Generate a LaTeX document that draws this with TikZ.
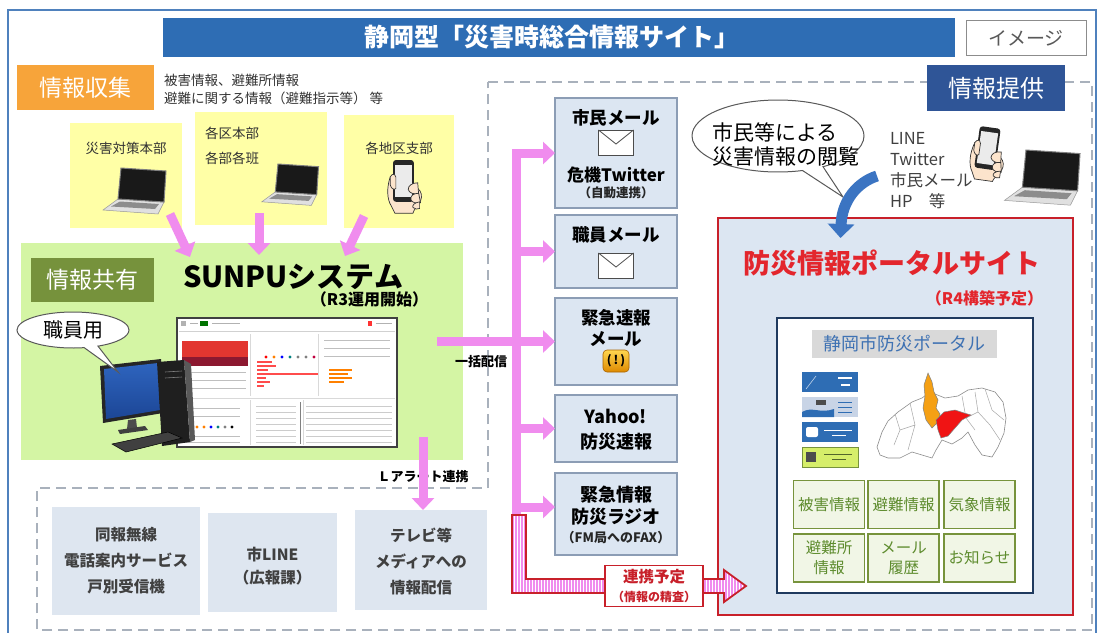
\documentclass[tikz,border=0pt]{standalone}
\usepackage{fontspec}
\setmainfont{Noto Sans CJK JP}
\usetikzlibrary{arrows.meta,shapes.callouts,shapes.geometric,patterns.meta,calc}

\newcommand{\fsz}[2]{\fontsize{#1}{#2}\selectfont}

\definecolor{framec}{HTML}{4F81BD}
\definecolor{titlec}{HTML}{2E6DB4}
\definecolor{navyc}{HTML}{2F5597}
\definecolor{orangec}{HTML}{F7A43A}
\definecolor{yellowc}{HTML}{FFFFA6}
\definecolor{greenc}{HTML}{D4F5A4}
\definecolor{olivec}{HTML}{76923C}
\definecolor{pinkc}{HTML}{F08CEE}
\definecolor{boxc}{HTML}{DCE6F2}
\definecolor{lowc}{HTML}{DEE6F0}
\definecolor{boxedge}{HTML}{8C9DB5}
\definecolor{redc}{HTML}{C8202A}
\definecolor{portalred}{HTML}{E3262D}
\definecolor{dashc}{HTML}{A9B1BC}
\definecolor{btnedge}{HTML}{77933C}
\definecolor{btnfill}{HTML}{F1F6E6}
\definecolor{btntext}{HTML}{5E8C2E}
\definecolor{textc}{HTML}{333333}
\definecolor{skinc}{HTML}{FCE4CC}
\definecolor{arrowblue}{HTML}{3B74C2}
\definecolor{labelblue}{HTML}{3F72B3}
\definecolor{labelgray}{HTML}{D9D9D9}
\definecolor{panelnavy}{HTML}{1F3A5F}

\tikzset{
  every node/.style={inner sep=0pt, outer sep=0pt},
  pk/.style={draw=pinkc, line width=9pt, line join=miter, -{Triangle[length=12pt,width=22pt]}},
  midbox/.style={rectangle, fill=boxc, draw=boxedge, line width=1.3pt, minimum width=122pt},
  lowbox/.style={rectangle, fill=lowc},
  midtext/.style={font=\bfseries\fsz{17.5}{21}, text=black},
  smalltext/.style={font=\bfseries\fsz{12.5}{14}, text=black!85},
  lowtext/.style={font=\bfseries\fsz{15.5}{26}, text=black!75, align=center},
  yelbox/.style={rectangle, fill=yellowc},
  yeltext/.style={font=\fsz{13.5}{25}, text=textc},
  btn/.style={rectangle, draw=btnedge, fill=btnfill, line width=1.6pt, minimum width=71pt, minimum height=48pt, text=btntext, align=center, font=\fsz{15.5}{20}},
  bubble/.style={ellipse callout, draw=black!65, fill=white, line width=1pt},
  dashreg/.style={draw=dashc, line width=1.5pt, dash pattern=on 10pt off 6pt},
  envelope/.pic={
    \path[fill=white, draw=black!70, line width=0.8pt] (0,0) rectangle (35,25);
    \draw[black!70, line width=0.8pt] (0,0) -- (17.5,14) -- (35,0);
  },
  laptop/.pic={
    \path[fill=black!12, draw=black!40, line width=0.5pt] (-3,31) -- (43,34) -- (37,46) -- (-18,42) -- cycle;
    \path[fill=black!45] (-1,33.5) -- (38,36) -- (34,41) -- (-10,38.5) -- cycle;
    \path[fill=black!90, draw=black!50, line width=1pt] (0,0) -- (45,3) -- (43,34) -- (-3,31) -- cycle;
  },
  phonehand/.pic={
    \path[fill=skinc, draw=black!80, line width=0.7pt]
      (-3,18) .. controls (-7,30) and (-6,42) .. (-2,48) -- (2,56) -- (21,56)
      .. controls (22,52) and (26,48) .. (29,43) .. controls (31,38) and (30,33) .. (26,30) -- cycle;
    \path[fill=black!85, rounded corners=3pt] (0,0) rectangle (22,44);
    \path[fill=black!8] (2,5) rectangle (20,39);
    \path[fill=skinc, draw=black!80, line width=0.7pt] (26,24) .. controls (20,24) and (16,27) .. (16,31) .. controls (17,35) and (22,36) .. (27,36) -- cycle;
    \path[fill=skinc, draw=black!80, line width=0.7pt] (27,35) .. controls (21,35) and (18,38) .. (19,42) .. controls (20,45) and (25,46) .. (29,45) -- cycle;
    \path[fill=skinc, draw=black!80, line width=0.7pt] (28,44) .. controls (22,45) and (20,48) .. (21,50) .. controls (23,52) and (26,52) .. (28,51) -- cycle;
    \path[fill=skinc, draw=black!80, line width=0.7pt] (-3,18) .. controls (-1,14) and (2,14) .. (3,18) -- (3,30) .. controls (1,32) and (-2,30) .. (-3,26) -- cycle;
  },
}

\begin{document}
\begin{tikzpicture}[x=1pt,y=-1pt]
\useasboundingbox (0,0) rectangle (1099,632);
\clip (0,0) rectangle (1099,632);
\fill[white] (0,0) rectangle (1099,632);

% outer frame
\draw[framec, line width=1.6pt] (8,640) -- (8,10) -- (1096,10) -- (1096,640);

% title bar and tag
\node[fill=titlec, minimum width=792pt, minimum height=39pt] (title) at (559,37.5) {};
\node[text=white, font=\bfseries\fsz{25}{25}] (titletext) at (552,37.5) {静岡型「災害時総合情報サイト」};
\node[draw=black!45, fill=white, line width=1pt, minimum width=120pt, minimum height=35pt, text=black!65, font=\fsz{19}{19}] (tag) at (1026,38) {イメージ};

% dashed area of the distribution side
\draw[dashreg] (488,82) -- (1092,82) -- (1092,630) -- (37,630) -- (37,488) -- (488,488) -- cycle;

% collection header
\node[fill=orangec, minimum width=137pt, minimum height=45pt, text=white, font=\fsz{23}{23}] (collect) at (85,87.5) {情報収集};
\node[anchor=west, align=left, font=\fsz{13.5}{18}, text=textc] (collecttext) at (164,89) {被害情報、避難所情報\\避難に関する情報（避難指示等） 等};

% sources
\node[yelbox, minimum width=112pt, minimum height=105pt] (y1) at (126,175.5) {};
\node[yelbox, minimum width=132pt, minimum height=113pt] (y2) at (261,168.5) {};
\node[yelbox, minimum width=110pt, minimum height=113pt] (y3) at (399,171.5) {};
\node[yeltext] (y1t) at (126,148) {災害対策本部};
\node[yeltext, anchor=west, align=left] (y2t) at (205,145.5) {各区本部\\各部各班};
\node[yeltext] (y3t) at (399,148) {各地区支部};
\pic at (121,168) {laptop};
\pic[scale=0.9] at (278,164) {laptop};
\pic[scale=0.95] at (393,160) {phonehand};

% shared system
\node[fill=greenc, minimum width=442pt, minimum height=217pt] (green) at (242,351.5) {};
\node[fill=olivec, minimum width=123pt, minimum height=44pt, text=white, font=\fsz{23}{23}] (share) at (92.5,280) {情報共有};
\node[font=\bfseries\fsz{29}{29}] (sunpu) at (293,277) {SUNPUシステム};
\node[anchor=east, font=\bfseries\fsz{16}{16}] (r3) at (428,299) {（R3運用開始）};

% dashboard screenshot
\node[draw=black!75, fill=white, line width=1.2pt, minimum width=220pt, minimum height=129pt] (shot) at (287,382.5) {};
\path[fill=black!30] (181,321) rectangle (186,326);
\draw[black!30, line width=0.6pt] (190,323.5) -- (198,323.5) (212,323.5) -- (240,323.5);
\path[fill=green!45!black] (200,321) rectangle (208,326);
\path[fill=red!80] (368,321) rectangle (372,326);
\draw[black!30, line width=0.6pt] (376,323.5) -- (392,323.5);
\draw[black!18, line width=0.5pt] (179,331) -- (395,331);
\draw[black!15, line width=0.5pt] (250,334) -- (250,396) (318,334) -- (318,396) (179,398) -- (395,398) (250,400) -- (250,445) (303,400) -- (303,445);
\path[fill={rgb,255:red,226;green,54;blue,48}] (182,341) rectangle (248,357);
\path[fill={rgb,255:red,140;green,24;blue,48}] (182,357) rectangle (248,366);
\foreach \yy in {372,380,388} \draw[black!25, line width=0.5pt] (184,\yy) -- (246,\yy);
\foreach \yy/\ll in {362/272,366/276,370/268,374/318,378/266,382/270,386/264} \path[fill=red!70] (257,\yy-1.2) rectangle (\ll,\yy+1.2);
\foreach \xx/\cc in {266/red,274/orange,282/blue,290/teal,298/gray,306/gray,314/purple} \path[fill=\cc] (\xx,357) circle (1.6);
\foreach \yy/\ll in {370/352,374/348,378/352,382/344} \path[fill=orange] (329,\yy-1.2) rectangle (\ll,\yy+1.2);
\foreach \yy in {340,348,356} \draw[black!25, line width=0.5pt] (324,\yy) -- (390,\yy);
\foreach \yy in {406,412,...,442} \draw[black!20, line width=0.5pt] (306,\yy) -- (392,\yy);
\draw[black!50, line width=1pt] (300,402) -- (300,444);
\foreach \yy in {406,412,418,424,430,436,442} \draw[black!20, line width=0.5pt] (256,\yy) -- (296,\yy);
\foreach \xx/\cc in {190/red,197/orange,204/orange,211/blue,218/teal,225/gray,232/black} \path[fill=\cc] (\xx,427) circle (1.6);
\foreach \yy in {408,416,436,442} \draw[black!25, line width=0.5pt] (184,\yy) -- (240,\yy);

% desktop computer
\path[fill=black!85] (100,366) -- (161,359) -- (163,413) -- (103,423) -- cycle;
\path[top color={rgb,255:red,46;green,100;blue,190}, bottom color={rgb,255:red,28;green,70;blue,150}] (104,369) -- (158,363) -- (160,410) -- (106,419) -- cycle;
\path[fill=black!70] (128,420) -- (136,419) -- (137,428) -- (127,429) -- cycle;
\path[fill=black!75] (118,430) -- (145,426) -- (148,430) -- (120,434) -- cycle;
\path[fill=black!88] (157,362) -- (184,360) -- (190,442) -- (162,446) -- cycle;
\path[fill=black!65] (184,360) -- (191,364) -- (195,440) -- (190,442) -- cycle;
\draw[black!50, line width=0.6pt] (165,372) -- (182,371) (165,378) -- (182,377);
\path[fill=black!75, draw=black, line width=0.5pt] (112,444) -- (168,432) -- (182,438) -- (126,452) -- cycle;

% staff bubble
\node[bubble, minimum width=112pt, minimum height=36pt, callout absolute pointer={(118,372)}, font=\fsz{20}{20}] (staff) at (73,330) {職員用};

% arrows from sources to the system
\draw[pk] ([shift={(44,-14)}]y1.south) -- ([shift={(-52,14)}]green.north);
\draw[pk] ([shift={(-2,-12)}]y2.south) -- ([shift={(17,12)}]green.north);
\draw[pk] ([shift={(-35,-12)}]y3.south) -- ([shift={(103,13)}]green.north);

% bottom-left channels
\node[lowbox, minimum width=148pt, minimum height=108pt] (wireless) at (126,561) {};
\node[lowbox, minimum width=129pt, minimum height=99pt] (line) at (272.5,562.5) {};
\node[lowbox, minimum width=132pt, minimum height=100pt] (tv) at (421,560) {};
\node[lowtext] (wirelesst) at (126,561) {同報無線\\電話案内サービス\\戸別受信機};
\node[lowtext, font=\bfseries\fsz{15.5}{23}] (linet) at (272.5,566) {市LINE\\（広報課）};
\node[lowtext] (tvt) at (421,561) {テレビ等\\メディアへの\\情報配信};

% distribution column
\node[midbox, minimum height=110pt] (b1) at (616,153) {};
\node[midbox, minimum height=73pt] (b2) at (616,251.5) {};
\node[midbox, minimum height=87pt] (b3) at (616,341.5) {};
\node[midbox, minimum height=67pt] (b4) at (616,428.5) {};
\node[midbox, minimum height=82pt] (b5) at (616,514) {};
\node[midtext] (b1a) at (616,118) {市民メール};
\pic at (598.5,130) {envelope};
\node[midtext, font=\bfseries\fsz{17}{20}] (b1b) at (616,175) {危機Twitter};
\node[smalltext] (b1c) at (616,193) {（自動連携）};
\node[midtext] (b2a) at (616,235) {職員メール};
\pic at (598.5,253) {envelope};
\node[midtext] (b3a) at (616,318) {緊急速報};
\node[midtext] (b3b) at (616,339) {メール};
\node[rounded corners=4pt, top color={rgb,255:red,255;green,214;blue,80}, bottom color={rgb,255:red,222;green,138;blue,0}, draw={rgb,255:red,170;green,100;blue,0}, line width=0.6pt, minimum width=26pt, minimum height=22pt] (alert) at (616,361) {};
\node[font=\bfseries\fsz{12}{12}] (alertmark) at (alert.center) {(\,!\,)};
\node[midtext, font=\bfseries\fsz{18}{25}, align=center] (b4a) at (616,429.5) {Yahoo!\\防災速報};
\node[midtext, font=\bfseries\fsz{18}{22}, align=center] (b5a) at (616,506) {緊急情報\\防災ラジオ};
\node[smalltext, font=\bfseries\fsz{13}{14}] (b5b) at (616,538) {（FM局へのFAX）};

% broadcast bus
\coordinate (busbot) at (516,515);
\coordinate (ik) at (437,343);
\draw[pk] (busbot) |- (b1.west);
\draw[pk] (b2.west -| busbot) -- (b2.west);
\draw[pk] (b4.west -| busbot) -- (b4.west);
\draw[pk] ([shift={(0,-7)}]b5.west -| busbot) -- ([shift={(0,-7)}]b5.west);
\draw[pk] (b3.west -| ik) -- (b3.west);
\node[font=\bfseries\fsz{13}{13}] (ikl) at (481,362) {一括配信};

% L-alert link
\coordinate (la) at (423,437);
\node[font=\bfseries\fsz{13}{13}] (lal) at (423,477) {Ｌアラート連携};
\draw[pk] (la) -- (la |- tv.north);

% information provision header
\node[fill=navyc, minimum width=138pt, minimum height=46pt, text=white, font=\fsz{24}{24}] (provide) at (996,88) {情報提供};

% citizens bubble and devices
\node[bubble, minimum width=172pt, minimum height=72pt, callout absolute pointer={(843,197)}] (citizen) at (778,136) {};
\node[anchor=west, align=left, font=\fsz{21}{24}] (citizentext) at (712,145) {市民等による\\災害情報の閲覧};
\node[anchor=west, align=left, font=\fsz{16.5}{21}, text=black!75] (media) at (890,171) {LINE\\Twitter\\市民メール\\HP　等};
\pic[scale=0.95, rotate=-8] at (980,126) {phonehand};
\pic[scale=1.2] at (1026,150) {laptop};

% portal site
\node[rectangle, draw=redc, line width=2.6pt, fill=boxc, minimum width=355pt, minimum height=397pt] (portal) at (895.5,416.5) {};
\coordinate (bstart) at (877,176);
\draw[arrowblue, line width=11pt, -{Triangle[length=14pt,width=26pt]}] (bstart) .. controls (858,182) and (842,200) .. ([shift={(-55,20)}]portal.north);
\node[text=portalred, font=\bfseries\fsz{27}{27}] (ptitle) at (892,263) {防災情報ポータルサイト};
\node[anchor=east, text=portalred, font=\bfseries\fsz{16}{16}] (r4) at (1043,298) {（R4構築予定）};
\node[draw=panelnavy, line width=2.6pt, fill=white, minimum width=256pt, minimum height=275pt] (panel) at (905,455.5) {};
\node[fill=labelgray, minimum width=185pt, minimum height=28pt, text=labelblue, font=\fsz{18}{18}] (plabel) at (904.5,344) {静岡市防災ポータル};

% portal link icons
\node[fill=titlec, minimum width=56pt, minimum height=20pt] (ic1) at (830,382) {};
\draw[white, line width=1.4pt] (838,378) -- (852,378) (841,385) -- (850,385);
\draw[white!70!titlec, line width=0.6pt] (806,389) -- (816,376);
\node[fill={rgb,255:red,200;green,212;blue,230}, minimum width=56pt, minimum height=20pt] (ic2) at (830,407) {};
\path[fill=titlec] (802,412) .. controls (812,406) and (820,414) .. (834,409) -- (834,417) -- (802,417) -- cycle;
\path[fill=black!70] (816,400) rectangle (826,405);
\draw[titlec, line width=1pt] (838,402) -- (852,402) (838,407) -- (852,407) (838,412) -- (852,412);
\node[fill=titlec, minimum width=56pt, minimum height=20pt] (ic3) at (830,432) {};
\path[fill=white, rounded corners=2pt] (806,427) rectangle (818,437);
\draw[white, line width=1pt] (824,430) -- (852,430) (832,435) -- (846,435);
\node[fill={rgb,255:red,214;green,238;blue,106}, draw=olivec, line width=0.6pt, minimum width=56pt, minimum height=20pt] (ic4) at (830,457) {};
\path[fill=black!70] (806,452) rectangle (816,462);
\draw[olivec!70!black, line width=1pt] (824,454) -- (852,454) (832,459) -- (846,459);

% city map
\path[fill=white, draw=black!45, line width=0.6pt] (877,447) -- (882,432) -- (888,421) -- (898,412) -- (912,402) -- (922,398) -- (930,392) -- (945,398) -- (958,396) -- (968,390) -- (982,388) -- (995,392) -- (1003,402) -- (1006,418) -- (1004,433) -- (998,447) -- (992,457) -- (982,455) -- (975,445) -- (968,432) -- (962,438) -- (952,444) -- (942,440) -- (936,450) -- (932,458) -- (922,455) -- (912,452) -- (900,458) -- (888,458) -- (880,455) -- cycle;
\draw[black!35, line width=0.5pt] (895,414) -- (900,430) -- (894,445) (910,403) -- (915,425) -- (908,450) (975,392) -- (978,412) -- (990,425) -- (1000,440) (985,389) -- (992,410) -- (1004,420) (962,396) -- (966,418) -- (975,430) (900,430) -- (915,425) (978,412) -- (966,418);
\path[fill={rgb,255:red,245;green,160;blue,20}, draw=black!50, line width=0.5pt] (928,373) -- (932,382) -- (934,392) -- (938,400) -- (936,408) -- (940,414) -- (938,422) -- (932,428) -- (926,420) -- (923,408) -- (925,396) -- (924,385) -- cycle;
\path[fill={rgb,255:red,240;green,20;blue,20}, draw=black!50, line width=0.5pt] (936,420) -- (944,412) -- (955,410) -- (964,413) -- (971,415) -- (962,420) -- (955,428) -- (948,436) -- (941,438) -- (938,430) -- cycle;

% portal menu buttons
\node[btn] (bt1) at (829,504.5) {被害情報};
\node[btn] (bt2) at (903.5,504.5) {避難情報};
\node[btn] (bt3) at (979.5,504.5) {気象情報};
\node[btn] (bt4) at (829,558) {避難所\\情報};
\node[btn] (bt5) at (903.5,558) {メール\\履歴};
\node[btn] (bt6) at (979.5,558) {お知らせ};

% planned link (hatched arrow)
\path[fill=white, postaction={pattern={Lines[angle=90,distance=3pt,line width=1.3pt]}, pattern color=pinkc}, postaction={draw=redc, line width=1.8pt}]
  (512,515) -- (526,515) -- (526,579) -- (724,579) -- (724,570) -- (746,586) -- (724,602) -- (724,593) -- (512,593) -- cycle;
\node[draw=redc, fill=white, line width=1.3pt, minimum width=98pt, minimum height=41pt] (plan) at (654,586) {};
\node[text=redc, font=\bfseries\fsz{15.5}{16}] (plana) at (654,577) {連携予定};
\node[text=redc, font=\bfseries\fsz{12}{13}] (planb) at (654,597) {（情報の精査）};

\end{tikzpicture}
\end{document}
